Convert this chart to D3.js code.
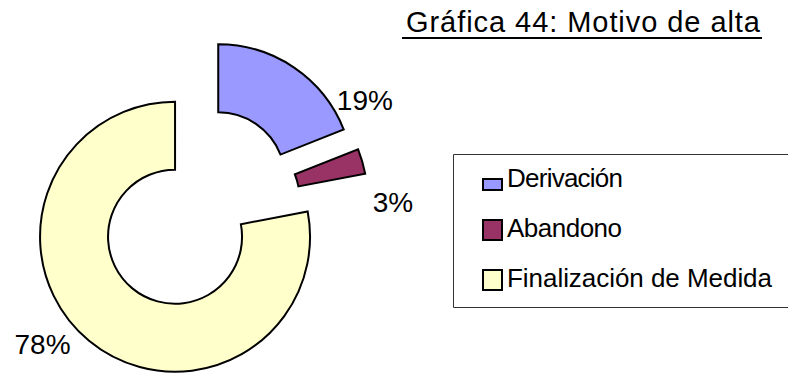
<!DOCTYPE html>
<html>
<head>
<meta charset="utf-8">
<script src="https://cdn.jsdelivr.net/npm/d3@7"></script>
<style>
  html, body { margin: 0; padding: 0; background: #fff; overflow: hidden; }
  svg { display: block; overflow: hidden; }
  text { font-family: "Liberation Sans", Arial, sans-serif; fill: #000; }
</style>
</head>
<body>
<svg id="chart" width="788" height="373"></svg>
<script>
// Discharge reasons (percent of cases)
const categories = ["Derivación", "Abandono", "Finalización de Medida"];
const values = [19, 3, 78];
const colors = ["#9999FF", "#993366", "#FFFFCC"];
const title = "Gráfica 44: Motivo de alta";

// Layout
const W = 788, H = 373;
const center = { x: 198, y: 209 };
const outerR = 135, innerR = 67, explode = 36;
// label placement in polar terms around the pie centre (degrees clockwise from 12 o'clock, radius)
const labelPolar = [ { a: 57, r: 199 }, { a: 88, r: 195 }, { a: 229, r: 206 } ];

const svg = d3.select("#chart");
svg.append("rect").attr("width", W).attr("height", H).attr("fill", "#fff");

// Title with underline
svg.append("text")
  .attr("x", 406).attr("y", 32)
  .attr("font-size", 29)
  .attr("textLength", 354).attr("lengthAdjust", "spacing")
  .text(title);
svg.append("line")
  .attr("x1", 402).attr("x2", 762)
  .attr("y1", 38).attr("y2", 38)
  .attr("stroke", "#000").attr("stroke-width", 2);

// Exploded doughnut
const pie = d3.pie().sort(null).value(d => d)(values);
const arc = d3.arc().innerRadius(innerR).outerRadius(outerR);
const g = svg.append("g").attr("transform", `translate(${center.x},${center.y})`);

g.selectAll("path.slice")
  .data(pie)
  .join("path")
  .attr("class", "slice")
  .attr("transform", d => {
    const mid = (d.startAngle + d.endAngle) / 2;
    return `translate(${explode * Math.sin(mid)},${-explode * Math.cos(mid)})`;
  })
  .attr("d", arc)
  .attr("fill", (d, i) => colors[i])
  .attr("stroke", "#000")
  .attr("stroke-width", 2)
  .attr("stroke-linejoin", "miter");

// Percentage labels
g.selectAll("text.pct")
  .data(pie)
  .join("text")
  .attr("class", "pct")
  .attr("x", (d, i) => labelPolar[i].r * Math.sin(labelPolar[i].a * Math.PI / 180))
  .attr("y", (d, i) => -labelPolar[i].r * Math.cos(labelPolar[i].a * Math.PI / 180))
  .attr("text-anchor", "middle")
  .attr("dominant-baseline", "central")
  .attr("font-size", 28)
  .text(d => d.data + "%");

// Legend frame: open on the right, where it runs past the edge
const legend = svg.append("g");
legend.append("path")
  .attr("d", "M800,154.5 H453.5 V307.5 H800")
  .attr("fill", "#fff")
  .attr("stroke", "#333").attr("stroke-width", 1);

const rowY = d3.scalePoint().domain(categories).range([190, 290]);
const swatchH = [11, 20, 20];
const labelW = [116, 115, 265];

const rows = legend.selectAll("g.row")
  .data(categories)
  .join("g")
  .attr("class", "row");

rows.append("rect")
  .attr("x", 483).attr("width", 19)
  .attr("y", (d, i) => rowY(d) - swatchH[i])
  .attr("height", (d, i) => swatchH[i])
  .attr("fill", (d, i) => colors[i])
  .attr("stroke", "#000").attr("stroke-width", 2);

rows.append("text")
  .attr("x", 507)
  .attr("y", d => rowY(d) - 3)
  .attr("font-size", 26)
  .attr("textLength", (d, i) => labelW[i]).attr("lengthAdjust", "spacing")
  .text(d => d);
</script>
</body>
</html>
